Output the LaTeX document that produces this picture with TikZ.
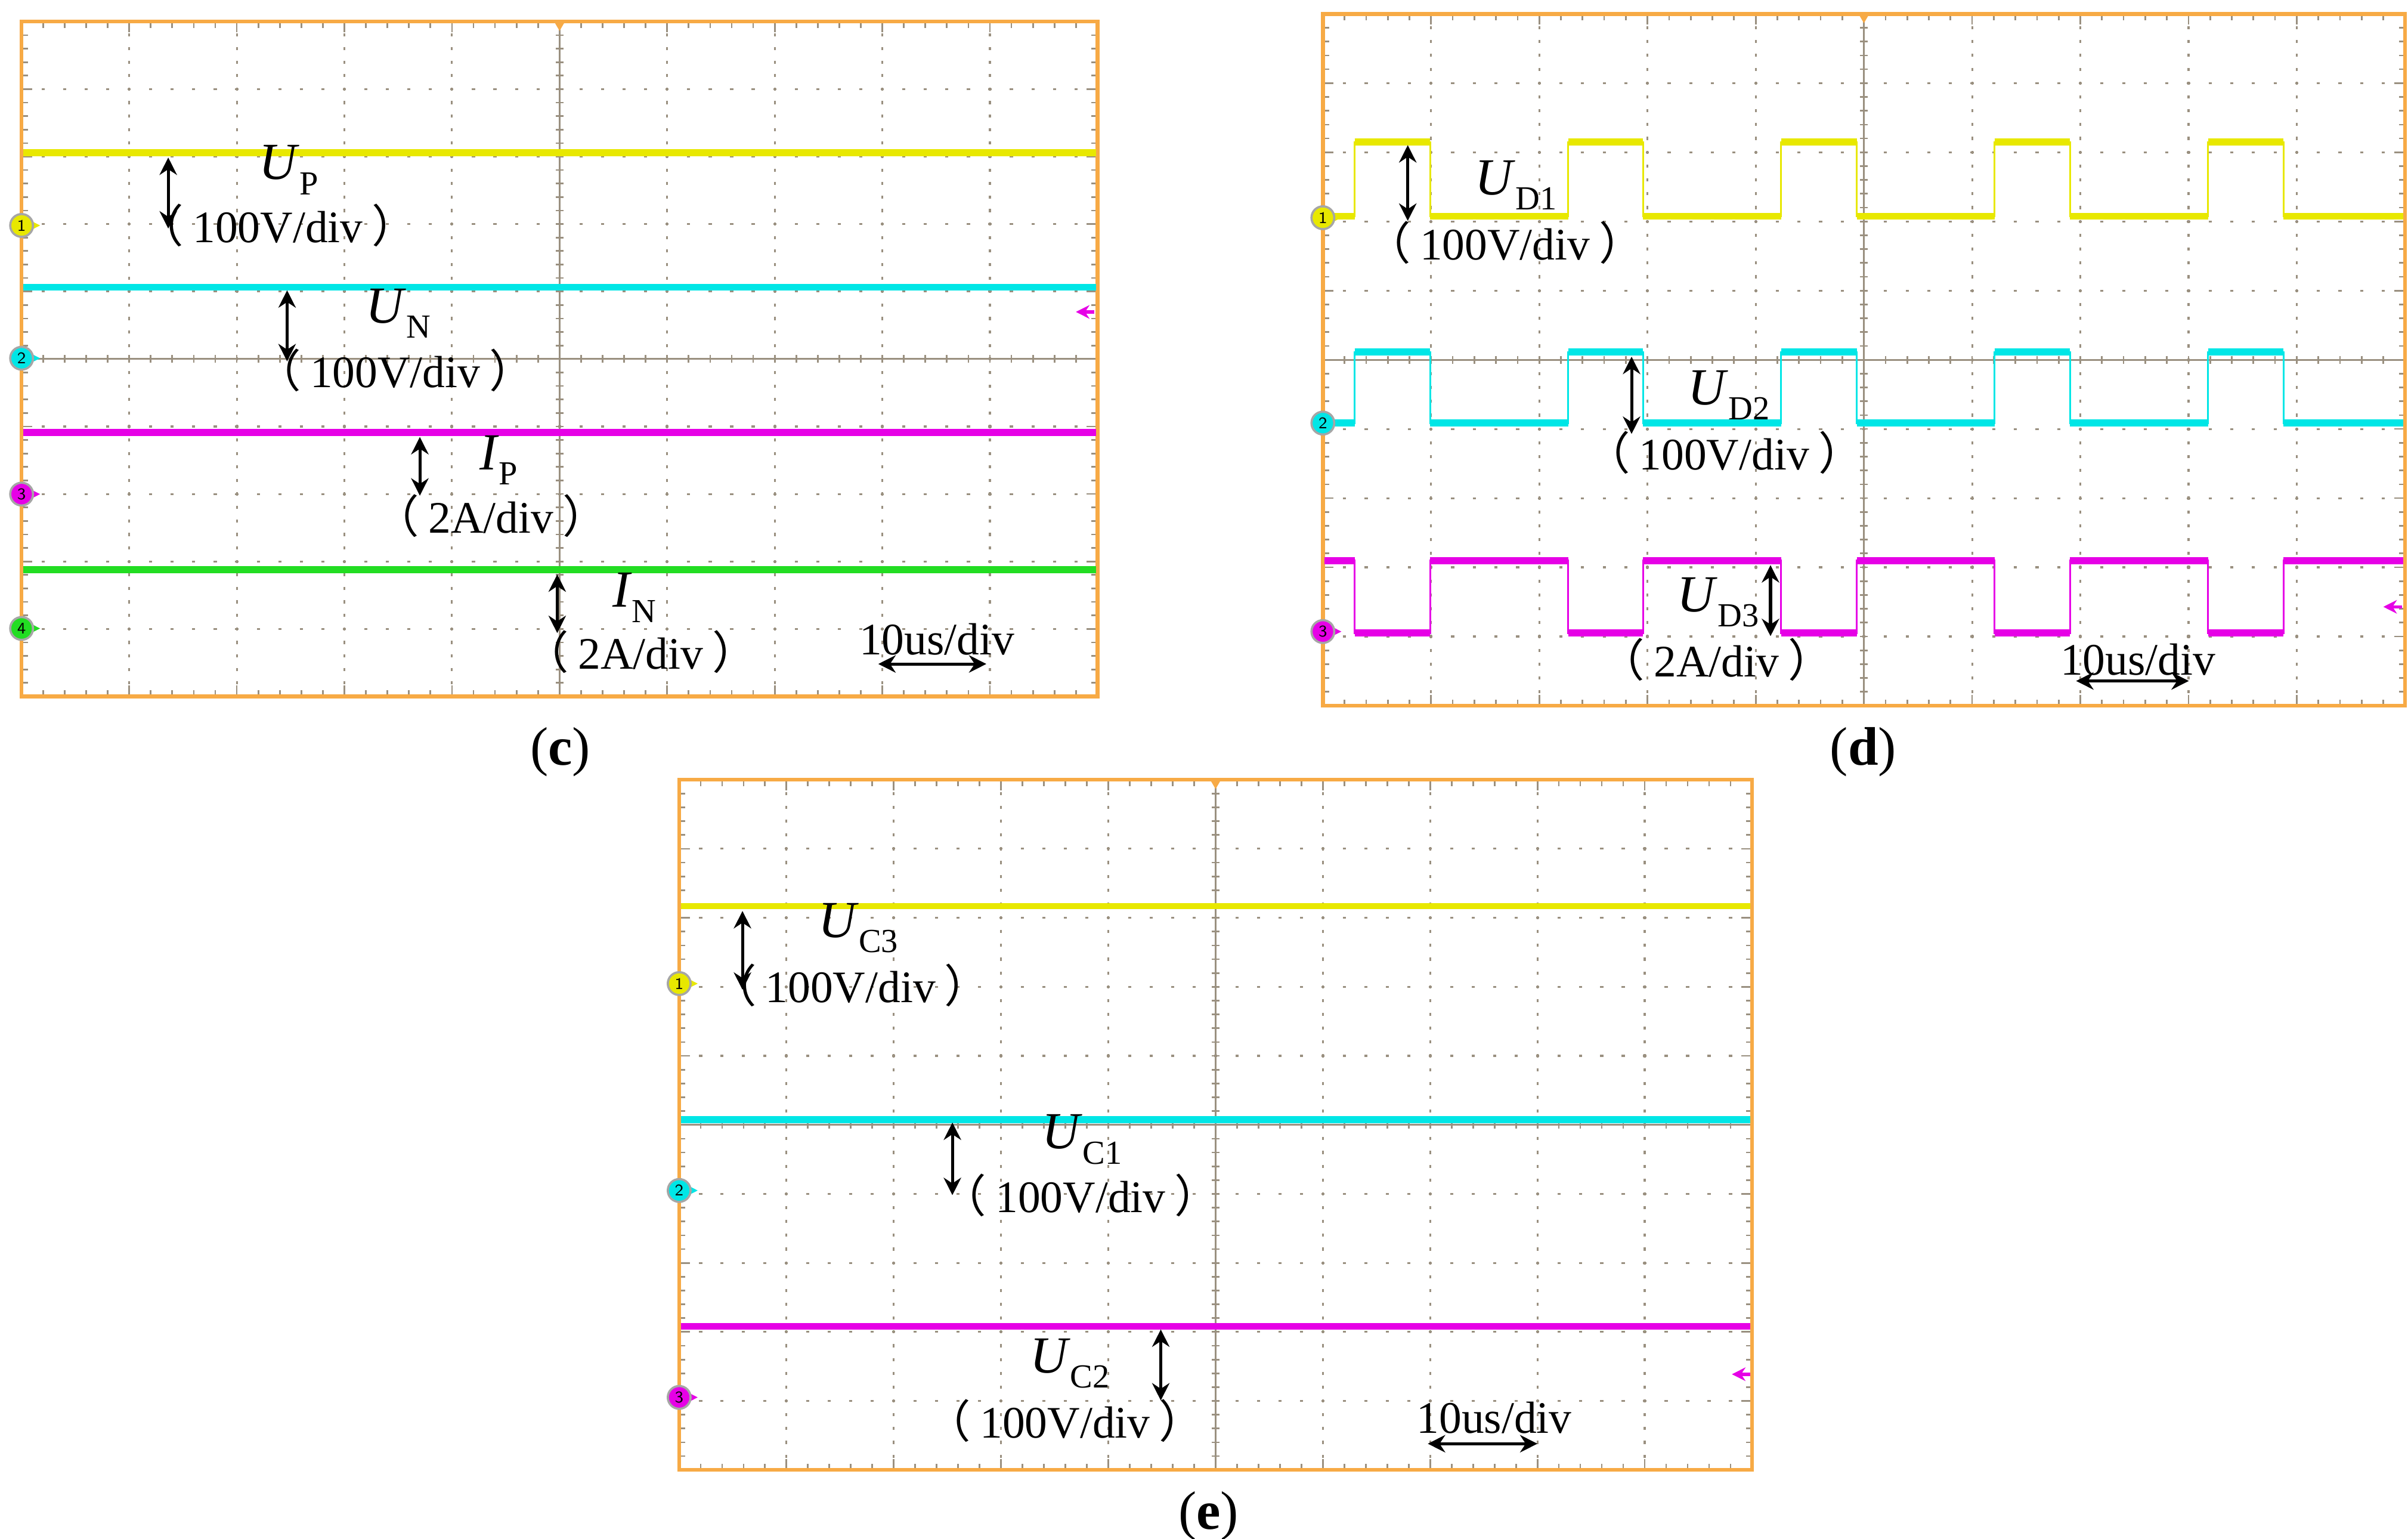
\documentclass[tikz,border=0pt]{standalone}
\usepackage{fontspec}
\setmainfont{Liberation Serif}
\newfontfamily\cjk{Noto Sans CJK SC}
\usetikzlibrary{arrows.meta}
\definecolor{frame}{HTML}{F7AA45}
\definecolor{gridc}{HTML}{9A9080}
\definecolor{ty}{HTML}{E8E800}
\definecolor{tc}{HTML}{00E6E6}
\definecolor{tm}{HTML}{E600E6}
\definecolor{tg}{HTML}{22DD22}
\tikzset{
 trace/.style={line width=1.3pt},
 sq/.style={line width=0.35pt},
 lab/.style={inner sep=0pt,font=\fontsize{8.3}{9}\selectfont},
 sym/.style={inner sep=0pt},
 meas/.style={line width=0.55pt,{Stealth[length=3.2pt,width=3.2pt]}-{Stealth[length=3.2pt,width=3.2pt]}},
 mk/.style={circle,draw=gray!70,line width=0.4pt,inner sep=0pt,minimum size=4.2pt,font=\fontsize{3}{3}\selectfont\sffamily},
 captxt/.style={inner sep=0pt,font=\fontsize{10}{11}\selectfont}
}
\newcommand\sy[2]{{\fontsize{9.6}{10}\selectfont\textit{#1}}\raisebox{-0.28em}{\fontsize{6.2}{7}\selectfont #2}}
\newcommand\dv[1]{{\cjk （}\hspace{0.2em}#1\hspace{0.2em}{\cjk ）}}
\newcommand\pgrid[4]{%
 \begin{scope}[shift={(#1,#2)}]
 \pgfmathsetmacro\pdx{#3/10}\pgfmathsetmacro\pdy{#4/10}
 \foreach \i in {1,2,3,4,6,7,8,9}{\foreach \j in {1,...,49}{%
   \fill[gridc] (\i*\pdx-0.6,\j*\pdy/5-1) rectangle ++(1.2,2);
   \fill[gridc] (\j*\pdx/5-1,\i*\pdy-0.6) rectangle ++(2,1.2);}}
 \draw[gridc,line width=0.3pt] (5*\pdx,0)--(5*\pdx,#4) (0,5*\pdy)--(#3,5*\pdy);
 \foreach \k in {1,...,49}{%
   \draw[gridc,line width=0.3pt] (5*\pdx-2.5,\k*\pdy/5)--++(5,0) (\k*\pdx/5,5*\pdy-2.5)--++(0,5)
     (\k*\pdx/5,0)--++(0,4) (\k*\pdx/5,#4)--++(0,-4) (0,\k*\pdy/5)--++(4,0) (#3,\k*\pdy/5)--++(-4,0);}
 \foreach \k in {1,...,9}{%
   \draw[gridc,line width=0.3pt] (\k*\pdx,0)--++(0,7) (\k*\pdx,#4)--++(0,-7) (0,\k*\pdy)--++(7,0) (#3,\k*\pdy)--++(-7,0);}
 \draw[frame,line width=0.7pt] (0,0) rectangle (#3,#4);
 \fill[frame] (5*\pdx-3.5,0)--(5*\pdx+3.5,0)--(5*\pdx,6)--cycle;
 \end{scope}}
\newcommand\chmark[4]{% x y color num
 \draw[#3,line width=0.6pt,-{Stealth[length=2.5pt,width=2.5pt]}] (#1+4,#2)--(#1+12,#2);
 \node[mk,fill=#3] at (#1,#2) {#4};}
\newcommand\larr[3]{\draw[#3,line width=0.6pt,-{Stealth[length=2.5pt,width=2.5pt]}] (#1+6,#2)--(#1-6,#2);}
\begin{document}
\begin{tikzpicture}[x=0.1mm,y=-0.1mm]
\useasboundingbox (0,0) rectangle (1560,996.4);
\fill[white] (0,0) rectangle (1560,996.4);
% ---------- panel c
\pgrid{14}{14}{697}{437}
\draw[ty,trace] (15,99)--(710,99);
\draw[tc,trace] (15,186)--(710,186);
\draw[tm,trace] (15,280)--(710,280);
\draw[tg,trace] (15,369)--(710,369);
\chmark{14}{146}{ty}{1}\chmark{14}{232}{tc}{2}\chmark{14}{320}{tm}{3}\chmark{14}{407}{tg}{4}
\larr{703}{202}{tm}
\coordinate (c1a) at (109,102); \coordinate (c1b) at (109,148);
\draw[meas] (c1a)--(c1b);
\node[sym] (up) at (187,110) {\sy{U}{P}};
\node[lab] (upd) at (180,146) {\dv{100V/div}};
\coordinate (c2a) at (186,188); \coordinate (c2b) at (186,234);
\draw[meas] (c2a)--(c2b);
\node[sym] (un) at (258,203) {\sy{U}{N}};
\node[lab] (und) at (256,240) {\dv{100V/div}};
\coordinate (c3a) at (272,283); \coordinate (c3b) at (272,321);
\draw[meas] (c3a)--(c3b);
\node[sym] (ip) at (323,298) {\sy{I}{P}};
\node[lab] (ipd) at (318,334) {\dv{2A/div}};
\coordinate (c4a) at (361,372); \coordinate (c4b) at (361,410);
\draw[meas] (c4a)--(c4b);
\node[sym] (in) at (411,387) {\sy{I}{N}};
\node[lab] (ind) at (415,422) {\dv{2A/div}};
\node[lab] (ct) at (607,414) {10us/div};
\coordinate (cta) at (569,430); \coordinate (ctb) at (639,430);
\draw[meas] (cta)--(ctb);
\node[captxt] (capc) at (363,487) {(\textbf{c})};
% ---------- panel d
\pgrid{857}{9}{701}{448}
\def\ta{877.6}\def\tb{926.6}\def\tcx{1015.9}\def\td{1064.5}\def\te{1153.8}\def\tf{1202.9}\def\tgx{1292.1}\def\th{1341}\def\ti{1430.4}\def\tj{1479.3}
\foreach \col/\hi/\lo in {ty/92/140, tc/228/274}{%
 \draw[\col,sq] (858,\lo)--(\ta,\lo)--(\ta,\hi)--(\tb,\hi)--(\tb,\lo)--(\tcx,\lo)--(\tcx,\hi)--(\td,\hi)--(\td,\lo)--(\te,\lo)--(\te,\hi)--(\tf,\hi)--(\tf,\lo)--(\tgx,\lo)--(\tgx,\hi)--(\th,\hi)--(\th,\lo)--(\ti,\lo)--(\ti,\hi)--(\tj,\hi)--(\tj,\lo)--(1557,\lo);
 \draw[\col,trace] (858,\lo)--(\ta,\lo) (\ta,\hi)--(\tb,\hi) (\tb,\lo)--(\tcx,\lo) (\tcx,\hi)--(\td,\hi) (\td,\lo)--(\te,\lo) (\te,\hi)--(\tf,\hi) (\tf,\lo)--(\tgx,\lo) (\tgx,\hi)--(\th,\hi) (\th,\lo)--(\ti,\lo) (\ti,\hi)--(\tj,\hi) (\tj,\lo)--(1557,\lo);}
\def\hi{363}\def\lo{410}
\draw[tm,sq] (858,\hi)--(\ta,\hi)--(\ta,\lo)--(\tb,\lo)--(\tb,\hi)--(\tcx,\hi)--(\tcx,\lo)--(\td,\lo)--(\td,\hi)--(\te,\hi)--(\te,\lo)--(\tf,\lo)--(\tf,\hi)--(\tgx,\hi)--(\tgx,\lo)--(\th,\lo)--(\th,\hi)--(\ti,\hi)--(\ti,\lo)--(\tj,\lo)--(\tj,\hi)--(1557,\hi);
\draw[tm,trace] (858,\hi)--(\ta,\hi) (\ta,\lo)--(\tb,\lo) (\tb,\hi)--(\tcx,\hi) (\tcx,\lo)--(\td,\lo) (\td,\hi)--(\te,\hi) (\te,\lo)--(\tf,\lo) (\tf,\hi)--(\tgx,\hi) (\tgx,\lo)--(\th,\lo) (\th,\hi)--(\ti,\hi) (\ti,\lo)--(\tj,\lo) (\tj,\hi)--(1557,\hi);
\chmark{857}{141}{ty}{1}\chmark{857}{274}{tc}{2}\chmark{857}{409}{tm}{3}
\larr{1550}{393}{tm}
\coordinate (d1a) at (912,94); \coordinate (d1b) at (912,143);
\draw[meas] (d1a)--(d1b);
\node[sym] (ud1) at (982,120) {\sy{U}{D1}};
\node[lab] (ud1d) at (975,157) {\dv{100V/div}};
\coordinate (d2a) at (1057,231); \coordinate (d2b) at (1057,281);
\draw[meas] (d2a)--(d2b);
\node[sym] (ud2) at (1120,256) {\sy{U}{D2}};
\node[lab] (ud2d) at (1117,293) {\dv{100V/div}};
\coordinate (d3a) at (1147,366); \coordinate (d3b) at (1147,412);
\draw[meas] (d3a)--(d3b);
\node[sym] (ud3) at (1113,390) {\sy{U}{D3}};
\node[lab] (ud3d) at (1112,427) {\dv{2A/div}};
\node[lab] (dt) at (1385,427) {10us/div};
\coordinate (dta) at (1345,441); \coordinate (dtb) at (1418,441);
\draw[meas] (dta)--(dtb);
\node[captxt] (capd) at (1207,487) {(\textbf{d})};
% ---------- panel e
\pgrid{440}{505}{695}{447}
\draw[ty,line width=1.1pt] (441,587)--(1134,587);
\draw[tc,trace] (441,725)--(1134,725);
\draw[tm,trace] (441,859)--(1134,859);
\chmark{440}{637}{ty}{1}\chmark{440}{771}{tc}{2}\chmark{440}{905}{tm}{3}
\larr{1128}{890}{tm}
\coordinate (e1a) at (481,590); \coordinate (e1b) at (481,641);
\draw[meas] (e1a)--(e1b);
\node[sym] (uc3) at (556,601) {\sy{U}{C3}};
\node[lab] (uc3d) at (551,638) {\dv{100V/div}};
\coordinate (e2a) at (617,727); \coordinate (e2b) at (617,774);
\draw[meas] (e2a)--(e2b);
\node[sym] (uc1) at (701,738) {\sy{U}{C1}};
\node[lab] (uc1d) at (700,774) {\dv{100V/div}};
\coordinate (e3a) at (752,861); \coordinate (e3b) at (752,907);
\draw[meas] (e3a)--(e3b);
\node[sym] (uc2) at (693,883) {\sy{U}{C2}};
\node[lab] (uc2d) at (690,920) {\dv{100V/div}};
\node[lab] (et) at (968,918) {10us/div};
\coordinate (eta) at (925,935); \coordinate (etb) at (996,935);
\draw[meas] (eta)--(etb);
\node[captxt] (cape) at (783,982) {(\textbf{e})};
\end{tikzpicture}
\end{document}
